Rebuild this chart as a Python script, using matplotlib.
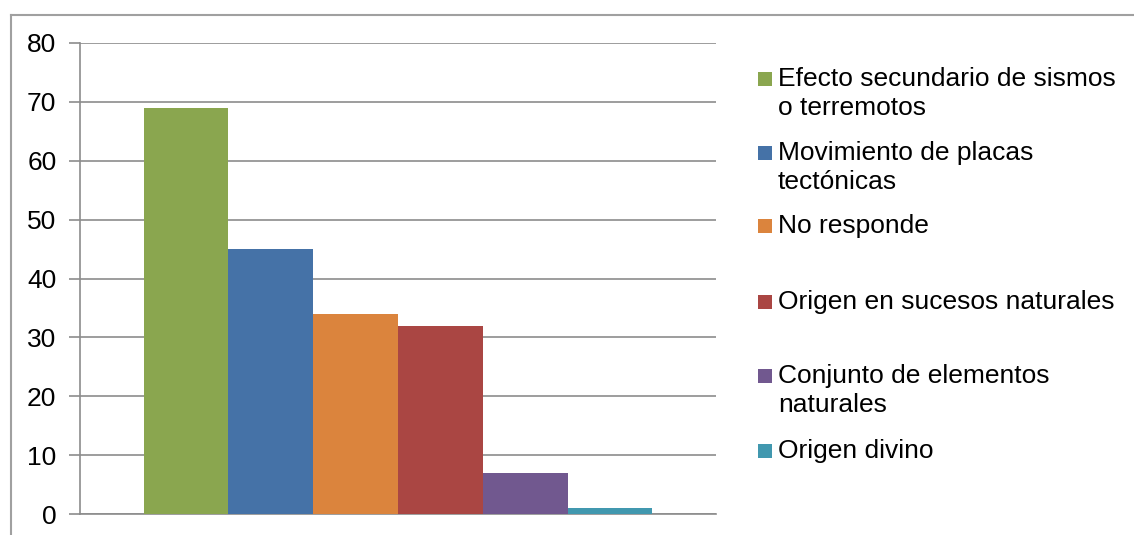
import matplotlib
matplotlib.use("Agg")
import matplotlib.pyplot as plt
from matplotlib.patches import Rectangle

# Survey answers and their counts
categories = [
    "Efecto secundario de sismos\no terremotos",
    "Movimiento de placas\ntectónicas",
    "No responde",
    "Origen en sucesos naturales",
    "Conjunto de elementos\nnaturales",
    "Origen divino",
]
values = [69, 45, 34, 32, 7, 1]
colors = ["#8AA64F", "#4572A7", "#DB843D", "#AA4643", "#71588F", "#4198AF"]
yticks = [0, 10, 20, 30, 40, 50, 60, 70, 80]

W, H = 1134, 535
fig = plt.figure(figsize=(W / 100, H / 100), dpi=100)
fig.patch.set_facecolor("white")

# Outer chart frame (left and top edges visible)
frame_col = "#a0a0a0"
fig.add_artist(plt.Line2D([10.5 / W, 10.5 / W], [0, 1 - 14.5 / H],
                          transform=fig.transFigure, color=frame_col, lw=1.5))
fig.add_artist(plt.Line2D([10.5 / W, 1], [1 - 14.5 / H, 1 - 14.5 / H],
                          transform=fig.transFigure, color=frame_col, lw=1.5))

# Plot area
x0, x1 = 80, 716
y0, y1 = 514, 43
ax = fig.add_axes([x0 / W, 1 - y0 / H, (x1 - x0) / W, (y0 - y1) / H])

grid_col = "#8c8c8c"
font = "Liberation Sans"
xs = list(range(len(values)))
ax.bar(xs, values, width=1.0, color=colors, zorder=3)
ax.set_xlim(-1.25, len(values) - 1 + 1.25)
ax.set_ylim(0, 80)
ax.set_yticks(yticks)
ax.set_yticklabels([str(t) for t in yticks], fontsize=19, family=font)
ax.set_xticks([])
ax.yaxis.grid(True, color=grid_col, lw=1.2, zorder=0)
ax.tick_params(axis="y", length=8, width=1.2, color=grid_col, pad=9)
for side in ["top", "right"]:
    ax.spines[side].set_visible(False)
for side in ["left", "bottom"]:
    ax.spines[side].set_color(grid_col)
    ax.spines[side].set_linewidth(1.2)

# Legend drawn entry by entry: first-line baselines in pixels
baselines = [86, 160, 233, 309, 383, 458]
line_gap = 29
marker_x, marker_size = 758, 14
text_x = 778
for lab, col, base in zip(categories, colors, baselines):
    fig.add_artist(Rectangle((marker_x / W, 1 - base / H), marker_size / W, marker_size / H,
                             transform=fig.transFigure, facecolor=col, edgecolor="none"))
    for i, line in enumerate(lab.split("\n")):
        fig.text(text_x / W, 1 - (base + i * line_gap) / H, line, fontsize=19,
                 family=font, va="baseline", ha="left", color="black")

fig.savefig("out.png", dpi=100, facecolor="white")
